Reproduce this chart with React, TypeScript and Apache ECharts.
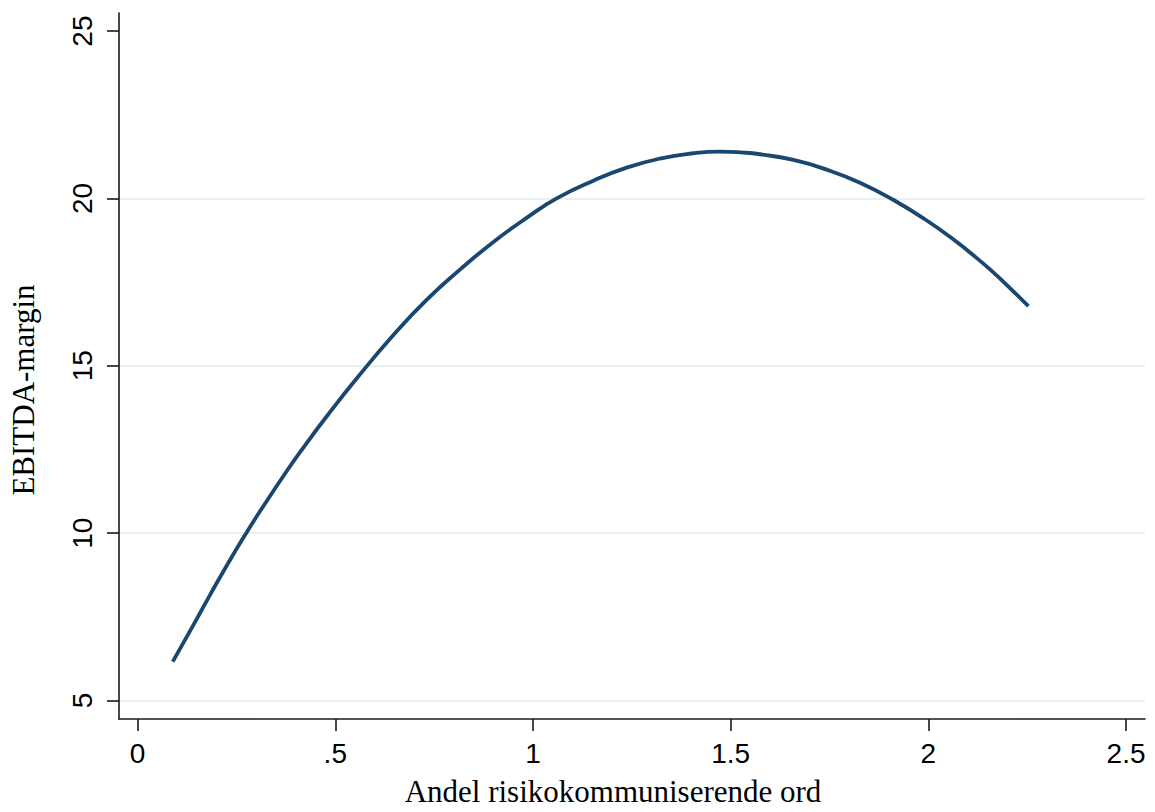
import { useEffect, useRef } from "react";
import * as echarts from "echarts";

// Fitted EBITDA-margin along the share of risk-communicating words
const riskWordShare = [
  0.089, 0.141, 0.183, 0.226, 0.272, 0.31, 0.377, 0.419, 0.479, 0.554, 0.647,
  0.731, 0.816, 0.9, 0.984, 1.06, 1.153, 1.237, 1.321, 1.406, 1.473, 1.532,
  1.574, 1.659, 1.743, 1.827, 1.911, 1.996, 2.072, 2.114, 2.156, 2.198, 2.253,
];
const ebitdaMargin = [
  6.16, 7.25, 8.15, 9.04, 9.95, 10.66, 11.85, 12.55, 13.5, 14.62, 15.92, 16.97,
  17.88, 18.7, 19.42, 20.0, 20.53, 20.92, 21.19, 21.35, 21.4, 21.37, 21.32,
  21.15, 20.86, 20.47, 19.96, 19.34, 18.7, 18.3, 17.88, 17.42, 16.78,
];

const xTickValues = [0, 0.5, 1, 1.5, 2, 2.5];
const yTickValues = [5, 10, 15, 20, 25];
const xRange = [-0.047, 2.548];
const yRange = [4.447, 25.54];

const xTitle = "Andel risikokommuniserende ord";
const yTitle = "EBITDA-margin";

const formatTick = (v: number) => (v === 0 ? "0" : String(v).replace(/^0\./, "."));

export default function App() {
  const ref = useRef<HTMLDivElement>(null);

  useEffect(() => {
    if (!ref.current) return;
    const chart = echarts.init(ref.current, null, { renderer: "svg" });
    const points = riskWordShare.map((x, i) => [x, ebitdaMargin[i]]);
    const gridColor = "#e8f0f2";

    chart.setOption({
      animation: false,
      backgroundColor: "#ffffff",
      grid: { left: 119, right: 10, top: 13, bottom: 93, containLabel: false },
      xAxis: {
        type: "value",
        min: xRange[0],
        max: xRange[1],
        name: xTitle,
        nameLocation: "middle",
        nameGap: 57,
        nameTextStyle: {
          fontFamily: "Liberation Serif",
          fontSize: 31,
          color: "#000",
          padding: [0, 38, 0, 0],
        },
        axisLine: { show: true, onZero: false, lineStyle: { color: "#1a1a1a", width: 1.6 } },
        axisTick: {
          show: true,
          length: 12,
          customValues: xTickValues,
          lineStyle: { color: "#1a1a1a", width: 1.6 },
        },
        axisLabel: {
          customValues: xTickValues,
          formatter: formatTick,
          margin: 20,
          fontFamily: "Liberation Sans",
          fontSize: 28,
          color: "#000",
        },
        splitLine: { show: false },
      },
      yAxis: {
        type: "value",
        min: yRange[0],
        max: yRange[1],
        name: yTitle,
        nameLocation: "middle",
        nameRotate: 90,
        nameGap: 80,
        nameTextStyle: {
          fontFamily: "Liberation Serif",
          fontSize: 31,
          color: "#000",
          padding: [0, 48, 0, 0],
        },
        axisLine: { show: true, onZero: false, lineStyle: { color: "#1a1a1a", width: 1.6 } },
        axisTick: {
          show: true,
          length: 12,
          customValues: yTickValues,
          lineStyle: { color: "#1a1a1a", width: 1.6 },
        },
        axisLabel: {
          customValues: yTickValues,
          rotate: 90,
          margin: 23,
          fontFamily: "Liberation Sans",
          fontSize: 28,
          color: "#000",
        },
        splitLine: {
          show: true,
          lineStyle: {
            color: [gridColor, gridColor, gridColor, gridColor, "rgba(0,0,0,0)"],
            width: 2,
          },
        },
      },
      series: [
        {
          type: "line",
          data: points,
          showSymbol: false,
          smooth: 0.5,
          lineStyle: { color: "#1a476f", width: 3.8 },
          itemStyle: { color: "#1a476f" },
        },
      ],
    });

    return () => chart.dispose();
  }, []);

  return (
    <div
      ref={ref}
      style={{ position: "fixed", left: 0, top: 0, width: 1155, height: 812, background: "#fff" }}
    />
  );
}
